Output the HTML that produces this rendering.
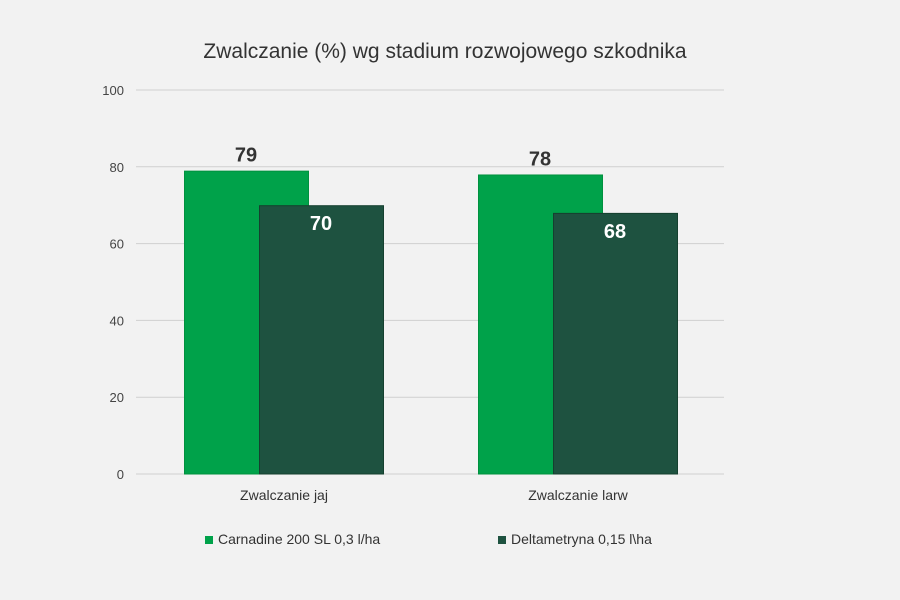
<!DOCTYPE html>
<html><head><meta charset="utf-8"><style>
body{margin:0;background:#f2f2f2;}
svg{display:block;font-family:"Liberation Sans",sans-serif;}
</style></head><body>
<svg id="chart" width="900" height="600">
<rect width="900" height="600" fill="#f2f2f2"/>
<text x="445" y="58" text-anchor="middle" font-size="21" fill="#333">Zwalczanie (%) wg stadium rozwojowego szkodnika</text>
<g id="grid"></g><g id="bars"></g>
<g>
<rect x="205" y="536" width="8" height="8" fill="#00a24a"/>
<text x="218" y="544" font-size="14" fill="#333">Carnadine 200 SL 0,3 l/ha</text>
<rect x="498" y="536" width="8" height="8" fill="#1e5240"/>
<text x="511" y="544" font-size="14" fill="#333">Deltametryna 0,15 l\ha</text>
</g>
</svg>
<script>
const categories = ["Zwalczanie jaj", "Zwalczanie larw"];
const seriesCarnadine = [79, 78];
const seriesDeltametryna = [70, 68];
const yTicks = [0, 20, 40, 60, 80, 100];
const NS = "http://www.w3.org/2000/svg";
const y0 = 474, yTop = 90, yMax = 100;
const y = v => y0 - (y0 - yTop) * v / yMax;
const groupX = i => 184 + i * 294;
function mk(tag, attrs, parent, text) {
  const e = document.createElementNS(NS, tag);
  for (const k in attrs) e.setAttribute(k, attrs[k]);
  if (text !== undefined) e.textContent = text;
  parent.appendChild(e);
  return e;
}
const grid = document.getElementById("grid");
yTicks.forEach(t => {
  const l = mk("line", {x1:136, x2:724, y1:y(t), y2:y(t), stroke:"#d0d0d0", "stroke-width":1}, grid);
  
  
  const tx = mk("text", {x:124, y:y(t)+5, "text-anchor":"end", "font-size":13, fill:"#444"}, grid, t);
  
  
});
const bars = document.getElementById("bars");
categories.forEach((c, i) => {
  const gx = groupX(i);
  const specs = [
    {v: seriesCarnadine[i], x: gx, fill:"#00a24a", stroke:"#00913f", lblFill:"#333", inside:false, n:"carnadine"},
    {v: seriesDeltametryna[i], x: gx + 75, fill:"#1e5240", stroke:"#15402f", lblFill:"#fff", inside:true, n:"deltametryna"}
  ];
  specs.forEach(s => {
    const r = mk("rect", {x:s.x+0.5, y:y(s.v)+0.5, width:124, height:y0-y(s.v)-0.5, fill:s.fill, stroke:s.stroke, "stroke-width":1}, bars);
    
    
    const ly = s.inside ? y(s.v) + 25 : y(s.v) - 9;
    const t = mk("text", {x:s.x+62, y:ly, "text-anchor":"middle", "font-size":20, "font-weight":"bold", fill:s.lblFill}, bars, s.v);
    
    
  });
  const xl = mk("text", {x:gx+100, y:500, "text-anchor":"middle", "font-size":14, fill:"#333"}, bars, c);
  
  
});
</script>
</body></html>
